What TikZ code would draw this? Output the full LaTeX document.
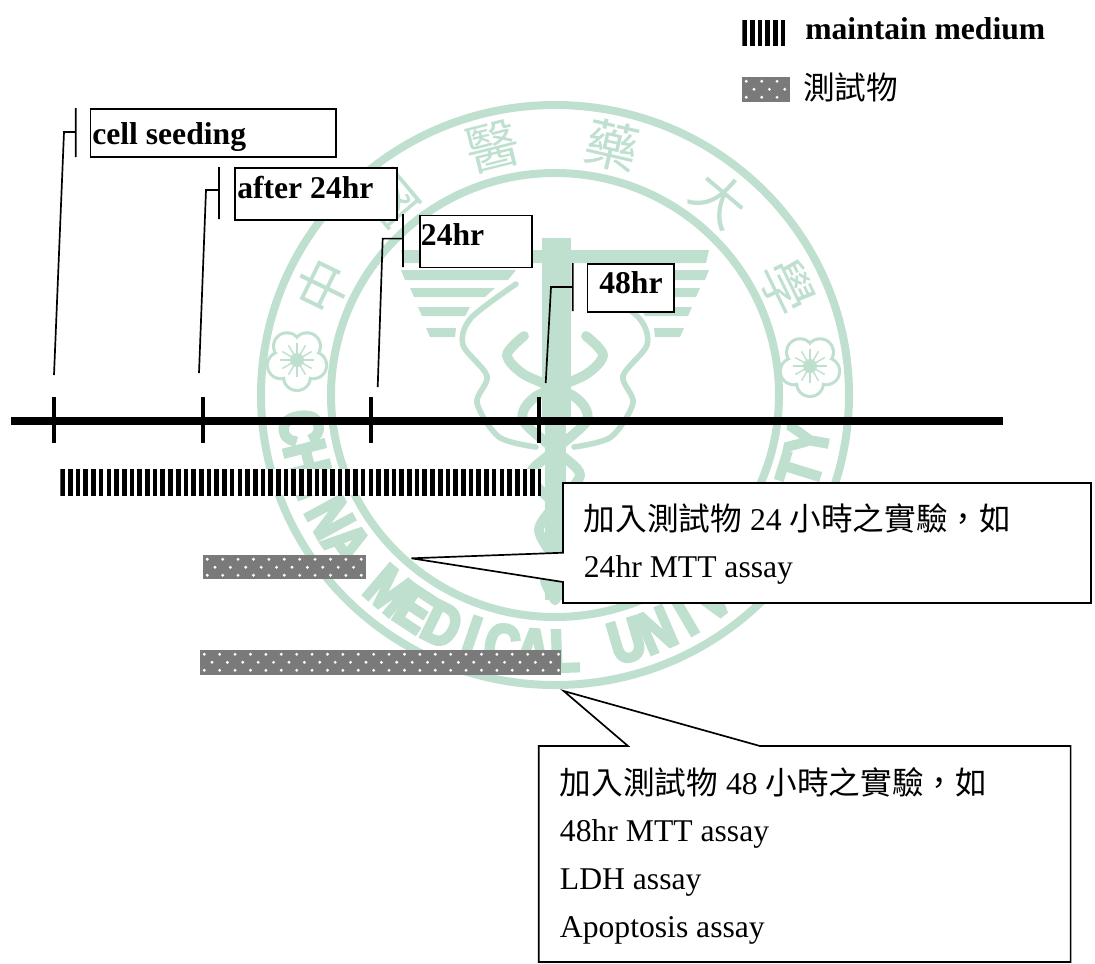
\documentclass[tikz,border=0pt]{standalone}
\usepackage{fontspec}
\setmainfont{Liberation Serif}
\newfontfamily\cjkfont{Noto Sans CJK TC}
\newfontfamily\sealfont[FakeStretch=0.8,FakeBold=6]{Liberation Sans Bold}
\usetikzlibrary{calc}
\definecolor{sealgreen}{HTML}{BFE0CF}
\def\pxu{0.025cm}
\tikzset{
  axisline/.style={line width=5.7pt, draw=black},
  tickline/.style={line width=2.5pt, draw=black},
  thinline/.style={line width=1.2pt, draw=black},
  tagbox/.style={draw=black, line width=1.2pt, fill=white, rectangle, inner sep=0pt, anchor=north west},
  tagtext/.style={anchor=base west, inner sep=0pt, font=\bfseries\fontsize{22.5}{27}\selectfont},
  plaintext/.style={anchor=base west, inner sep=0pt, font=\fontsize{22.5}{27}\selectfont},
  stripebar/.style={
    rectangle, fill=white, inner sep=0pt, anchor=north west,
    path picture={
      \draw[black, line width=30pt, dash pattern=on 3.3pt off 2.18pt]
        (path picture bounding box.west) -- (path picture bounding box.east);
    }
  },
  dotbar/.style={
    rectangle, fill=black!52, inner sep=0pt, anchor=north west,
    path picture={
      \foreach \row in {0,...,3}
        \foreach \col in {0,...,24}
          \fill[white] ([shift={({\col*15.4+mod(\row,2)*7.7+4},{\row*8+4})}]path picture bounding box.north west) circle (1.6);
    }
  },
  sealring/.style={draw=sealgreen, line width=5.7pt},
  sealstripe/.style={fill=sealgreen},
  sealline/.style={draw=sealgreen, line width=4pt, line cap=round},
  sealchar/.style={text=sealgreen, inner sep=0pt, font=\cjkfont\fontsize{38}{38}\selectfont},
  sealletter/.style={text=sealgreen, inner sep=0pt, font=\sealfont\fontsize{42}{42}\selectfont},
  plumflower/.pic={
    \foreach \a in {90,162,234,306,18} \fill[sealgreen] (\a:17) circle (15);
    \foreach \a in {90,162,234,306,18} \fill[white] (\a:17) circle (12);
    \fill[white] (0,0) circle (17);
    \foreach \a in {0,30,...,330} \draw[sealgreen, line width=1pt] (0,0) -- (\a:17);
    \fill[sealgreen] (0,0) circle (7);
  }
}

\begin{document}
\begin{tikzpicture}[x=\pxu, y=-\pxu]
  \useasboundingbox (0,0) rectangle (1095,963);

  % seal behind the chart
  \coordinate (sealc) at (555,395);
  \draw[sealring] (sealc) ellipse (294 and 290);
  \draw[sealring] (sealc) ellipse (224 and 222);
  \foreach \ang/\ch/\rot in {205/中/64, 230/國/40, 256/醫/14, 283/藥/-13, 310/大/-40, 335/學/-64}
    \node[sealchar, rotate=\rot] at ($(sealc)+(\ang:256)$) {\ch};
  \path (297,360) pic {plumflower};
  \path (810,366) pic {plumflower};
  \foreach \ch/\idx in {C/0,H/1,I/2,N/3,A/4,M/6,E/7,D/8,I/9,C/10,A/11,L/12,U/14,N/15,I/16,V/17,E/18,R/19,S/20,I/21,T/22,Y/23} {
    \pgfmathsetmacro{\ang}{172.7-\idx*7.07}
    \pgfmathsetmacro{\rot}{90-\ang}
    \node[sealletter, rotate=\rot] at ($(sealc)+(\ang:256)$) {\ch};
  }

  % wings, staff and snakes
  \foreach \s in {1,-1} {
    \begin{scope}[shift={(555,0)}, xscale=\s]
      \fill[sealstripe] (-154,250) -- (0,250) -- (0,263) -- (-151,263) -- cycle;
      \fill[sealstripe] (-154,270) -- (-39,270) -- (-47,280) -- (-150,280) -- cycle;
      \fill[sealstripe] (-145,288) -- (-60,288) -- (-70,297) -- (-141,297) -- cycle;
      \fill[sealstripe] (-137,307) -- (-85,307) -- (-90,316) -- (-133,316) -- cycle;
      \fill[sealstripe] (-129,328) -- (-99,328) -- (-100,337) -- (-125,337) -- cycle;
      \draw[sealline] plot[smooth] coordinates {(-39,284) (-84,318) (-92,345) (-68,376) (-78,403) (-56,437) (-19,447)};
      \draw[sealline, line width=7pt] plot[smooth] coordinates {(-31,336) (-48,355) (-30,375) (20,397) (32,420) (0,450) (-25,475) (0,505) (16,530) (0,560) (-10,580) (0,600)};
    \end{scope}
  }
  \fill[sealstripe] (542,238) rectangle (571,420);
  \fill[sealstripe] (545,420) rectangle (566,600);

  % time axis
  \coordinate (axisw) at (11,420.5);
  \coordinate (axise) at (1003,420.5);
  \draw[axisline] (axisw) -- (axise);
  \foreach \tickx in {54,203,371,539}
    \draw[tickline] (\tickx,397) -- (\tickx,443);

  % time tags
  \node[tagbox, minimum width=245.5*\pxu, minimum height=48*\pxu] (celltag) at (89.5,108) {};
  \node[tagtext] (celltext) at (92,144) {cell seeding};
  \node[tagbox, minimum width=162*\pxu, minimum height=52*\pxu] (aftertag) at (234,167) {};
  \node[tagtext] (aftertext) at (237,198) {after 24hr};
  \node[tagbox, minimum width=112*\pxu, minimum height=52*\pxu] (daytag) at (419,214.5) {};
  \node[tagtext] (daytext) at (420.7,245) {24hr};
  \node[tagbox, minimum width=86.5*\pxu, minimum height=48*\pxu] (twodaytag) at (586.7,263) {};
  \node[tagtext] (twodaytext) at (599,293) {48hr};

  \coordinate (cellfoot) at (54,375);
  \coordinate (afterfoot) at (199,373);
  \coordinate (dayfoot) at (377.7,387);
  \coordinate (twodayfoot) at (545.7,383);
  \draw[thinline] (75.7,108) -- (75.7,157) (75.7,132) -- (64,132) -- (cellfoot);
  \draw[thinline] (219,167) -- (219,219) (219,190) -- (206,190) -- (afterfoot);
  \draw[thinline] (403,214) -- (403,267) (403,238.6) -- (382.7,238.6) -- (dayfoot);
  \draw[thinline] (572.7,263) -- (572.7,311) (572.7,287) -- (551,287) -- (twodayfoot);

  % bars
  \node[stripebar, minimum width=481*\pxu, minimum height=26*\pxu] (mediumbar) at (60,469) {};
  \node[dotbar, minimum width=163*\pxu, minimum height=24*\pxu] (shortbar) at (203,555) {};
  \node[dotbar, minimum width=361*\pxu, minimum height=25*\pxu] (longbar) at (200,650) {};

  % legend
  \node[stripebar, minimum width=46*\pxu, minimum height=25*\pxu] (keymedium) at (742,20) {};
  \node[tagtext] (keymediumtext) at (805,39) {maintain medium};
  \node[dotbar, minimum width=48*\pxu, minimum height=25*\pxu] (keydrug) at (742,77) {};
  \node[plaintext] (keydrugtext) at (803,99) {\cjkfont 測試物};

  % callouts
  \coordinate (shorttip) at (411.5,558.3);
  \draw[thinline, fill=white] (563,483) -- (563,552.7) -- (shorttip) -- (563,582) -- (563,603) -- (1091,603) -- (1091,483) -- cycle;
  \node[plaintext] (shortline1) at (583.6,530) {{\cjkfont 加入測試物} 24 {\cjkfont 小時之實驗\symbol{"FF0C}如}};
  \node[plaintext] (shortline2) at (583.6,577) {24hr MTT assay};

  \coordinate (longtip) at (563.7,691);
  \draw[thinline, fill=white] (538.7,746) -- (628,746) -- (longtip) -- (760,746) -- (1070.6,746) -- (1070.6,962) -- (538.7,962) -- cycle;
  \node[plaintext] (longline1) at (559.7,794) {{\cjkfont 加入測試物} 48 {\cjkfont 小時之實驗\symbol{"FF0C}如}};
  \node[plaintext] (longline2) at (559.7,841) {48hr MTT assay};
  \node[plaintext] (longline3) at (559.7,889) {LDH assay};
  \node[plaintext] (longline4) at (559.7,937) {Apoptosis assay};
\end{tikzpicture}
\end{document}
